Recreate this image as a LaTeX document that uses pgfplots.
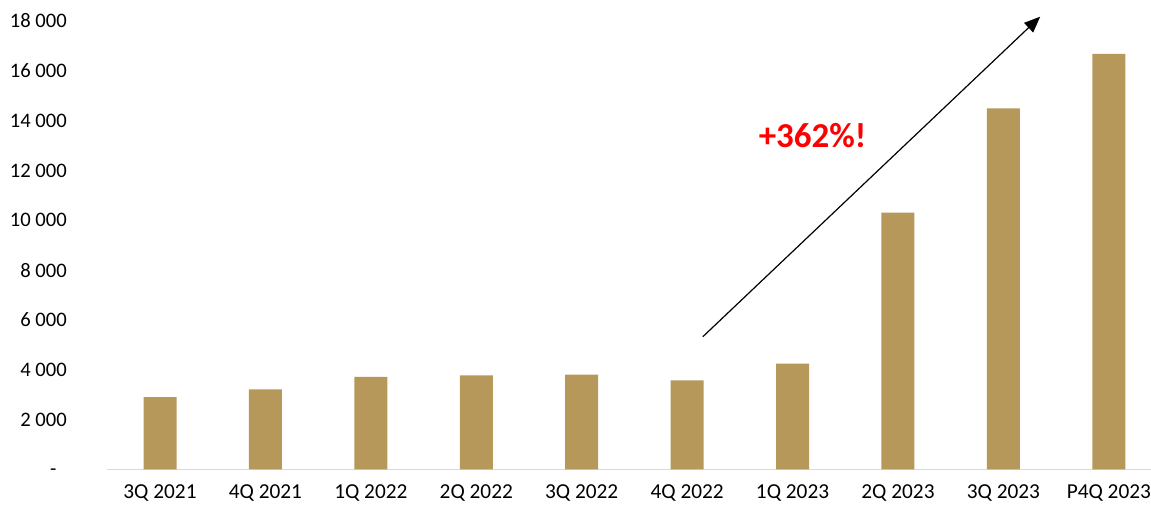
\documentclass[border=0pt]{standalone}
\usepackage{fontspec}
\setmainfont{Carlito}
\usepackage{pgfplots}
\pgfplotsset{compat=1.18}
\usetikzlibrary{arrows.meta}
\definecolor{barcol}{RGB}{181,152,90}
\definecolor{axisgray}{RGB}{217,217,217}
\begin{document}
\begin{tikzpicture}[x=1pt,y=1pt]
\path[use as bounding box] (0,0) rectangle (1151,504);
\clip (0,0) rectangle (1151,504);
\begin{axis}[
  at={(107.3pt,34.7pt)}, anchor=south west,
  scale only axis, width=1043.7pt, height=448.3pt,
  xmin=-0.5, xmax=9.4, ymin=0, ymax=18000,
  scaled y ticks=false,
  clip=false,
  axis lines*=left,
  y axis line style={draw=none},
  x axis line style={draw=axisgray, line width=1.5pt, -},
  major tick length=0pt,
  xtick={0,...,9},
  xticklabels={3Q 2021,4Q 2021,1Q 2022,2Q 2022,3Q 2022,4Q 2022,1Q 2023,2Q 2023,3Q 2023,P4Q 2023},
  ytick={0,2000,...,18000},
  yticklabels={-\phantom{0},2 000,4 000,6 000,8 000,10 000,12 000,14 000,16 000,18 000},
  x tick label style={anchor=north, inner sep=0pt, yshift=-15.5pt, font=\fontsize{21.3}{24}\selectfont},
  y tick label style={anchor=east, inner sep=0pt, xshift=-40.3pt, font=\fontsize{20.6}{24}\selectfont},
]
\addplot[ybar, bar width=33pt, fill=barcol, draw=none] coordinates {
  (0,2900) (1,3210) (2,3710) (3,3775) (4,3800) (5,3575) (6,4245) (7,10310) (8,14490) (9,16680)
};
\draw[-{Triangle[length=16pt,width=13pt]}, line width=1.2pt] (axis cs:5.149,5324) -- (axis cs:8.349,18173);
\node[text=red, font=\bfseries\fontsize{35}{40}\selectfont, anchor=base] at (axis cs:6.19,12920) {+362\%!};
\end{axis}
\end{tikzpicture}
\end{document}
